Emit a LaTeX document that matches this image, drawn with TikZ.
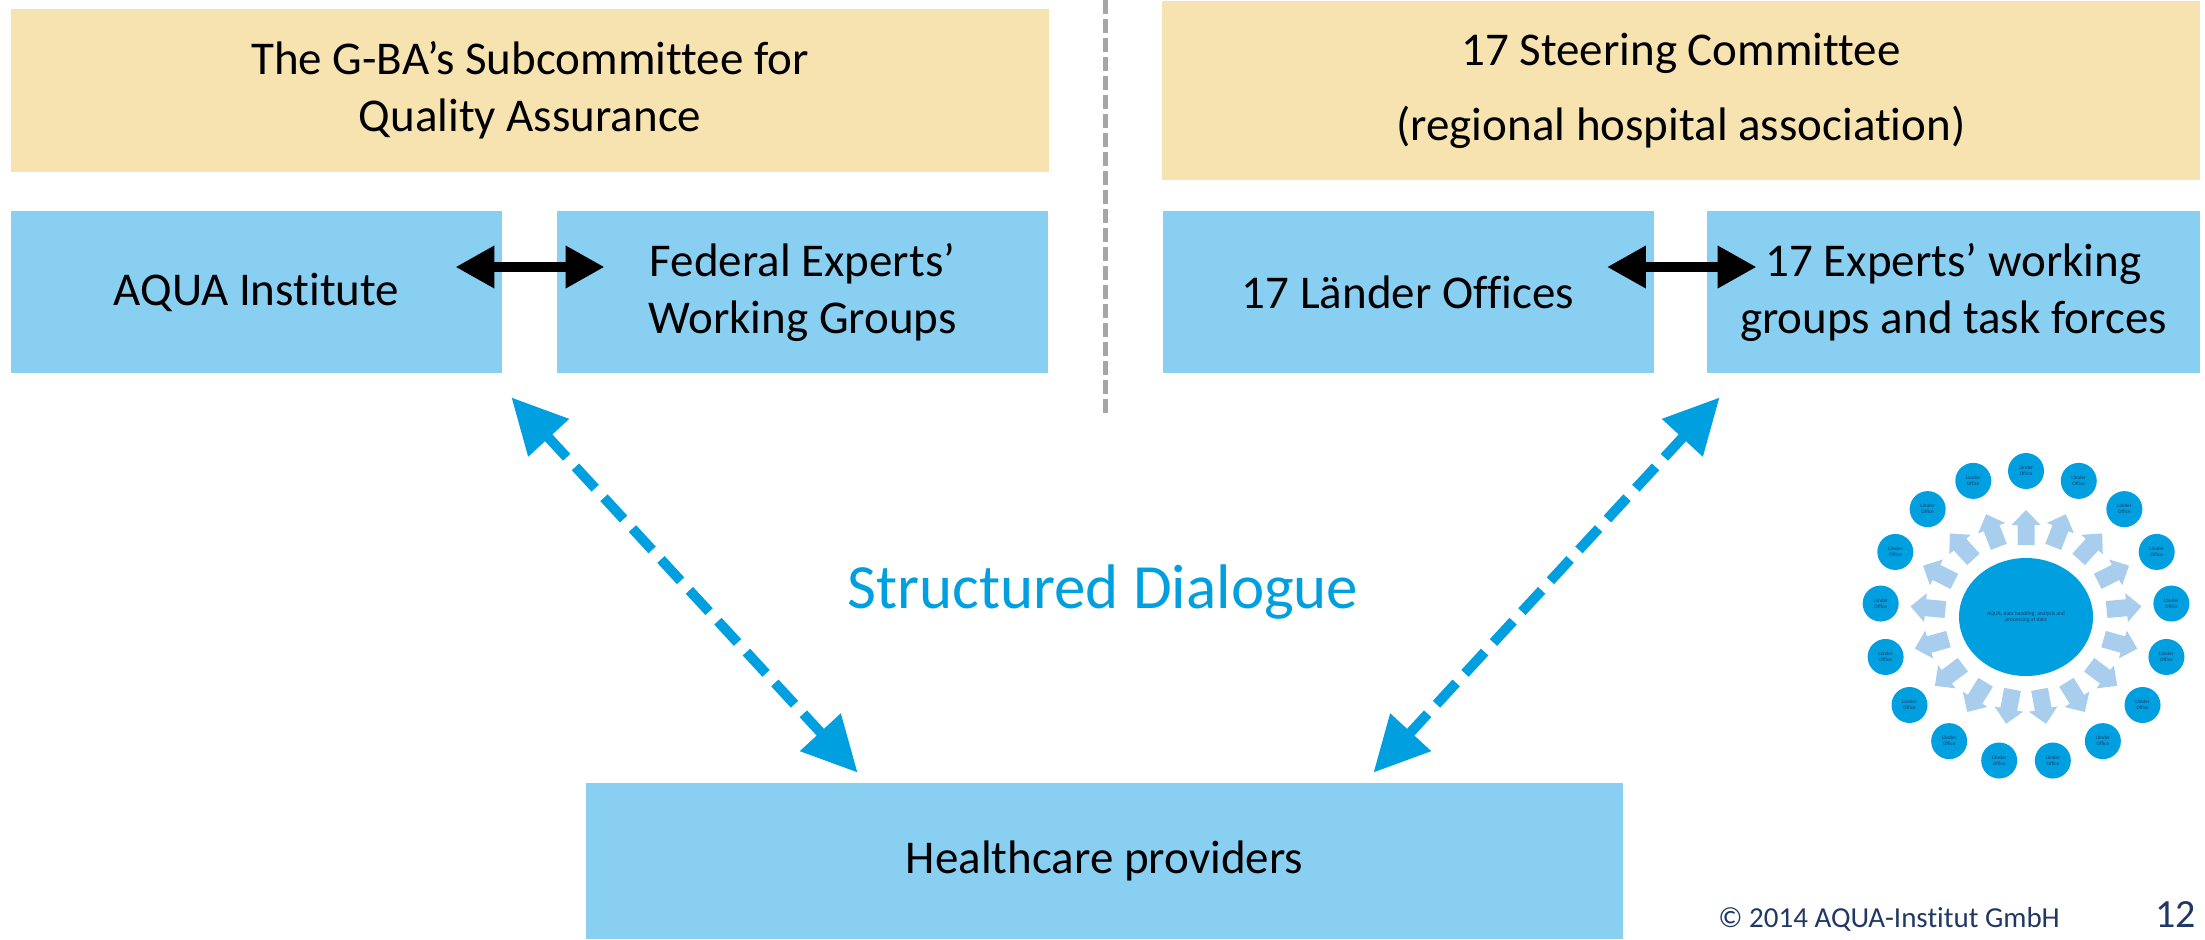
\documentclass[tikz,border=0pt]{standalone}
\usepackage{fontspec}
\setmainfont{Carlito}[Ligatures=CommonOff]
\usetikzlibrary{arrows.meta,shapes.geometric}
\definecolor{tanc}{HTML}{F6E3AF}
\definecolor{lboxc}{HTML}{89CFF1}
\definecolor{bluec}{HTML}{00A0E0}
\definecolor{larrowc}{HTML}{A9CDEC}
\definecolor{navyc}{HTML}{203864}
\definecolor{grayc}{HTML}{A6A6A6}
\begin{document}
\begin{tikzpicture}[x=0.5pt,y=-0.5pt,
  tanbox/.style={fill=tanc, draw=none, minimum width=519pt, inner sep=0pt, align=center,
    font=\fontsize{23.5}{28.5}\selectfont},
  lbox/.style={fill=lboxc, draw=none, minimum width=245.5pt, minimum height=81pt, inner sep=0pt,
    align=center, font=\fontsize{23.5}{28.5}\selectfont},
  blk/.style={line width=5pt, black, {Triangle[length=19.5pt,width=20pt]}-{Triangle[length=19.5pt,width=20pt]}},
  bluedash/.style={draw=bluec, line width=5pt, dash pattern=on 14.5pt off 6.5pt,
    {Triangle[length=27.5pt,width=26.5pt]}-{Triangle[length=27.5pt,width=26.5pt]}},
  smallc/.style={circle, fill=bluec, minimum size=18pt, inner sep=0pt, align=center,
    text=navyc, font=\fontsize{2.6}{3}\selectfont},
  bigell/.style={ellipse, fill=bluec, minimum width=67pt, minimum height=59pt, inner sep=0pt,
    align=center, text=navyc, font=\fontsize{2.8}{3.4}\selectfont},
  larrow/.style={fill=larrowc, draw=none}
]
\useasboundingbox (0,0) rectangle (2205,939);

% divider
\draw[grayc, line width=2.5pt, dash pattern=on 7pt off 2.5pt] (1105,0) -- (1105,413);

% top boxes
\node[tanbox, minimum height=81.5pt] (gba) at (530,90.5) {The G-BA’s Subcommittee for\\Quality Assurance};
\node[tanbox, minimum height=89.5pt] (steer) at (1681,90.5) {17 Steering Committee\\[9pt](regional hospital association)};

\node[lbox] (aqua) at (256.5,292) {AQUA Institute};
\node[lbox] (fed) at (802.5,292) {Federal Experts’\\Working Groups};
\node[lbox] (laender) at (1408,292) {17 Länder Offices};
\node[lbox, minimum width=246.5pt] (experts) at (1953.5,292) {17 Experts’ working\\groups and task forces};

\node[fill=lboxc, minimum width=518.5pt, minimum height=78pt, inner sep=0pt,
  font=\fontsize{23.5}{28.5}\selectfont] (hc) at (1104.5,861) {Healthcare providers};

% black arrows
\draw[blk] ([xshift=-23.5pt,yshift=12.5pt]aqua.east) -- ([xshift=24pt,yshift=12.5pt]fed.west);
\draw[blk] ([xshift=-23.5pt,yshift=12.5pt]laender.east) -- ([xshift=25pt,yshift=12.5pt]experts.west);

% blue dashed arrows
\draw[bluedash] ([xshift=4.5pt,yshift=-12pt]aqua.south east) -- ([xshift=136pt,yshift=5pt]hc.north west);
\draw[bluedash] ([xshift=6.5pt,yshift=-12pt]experts.south west) -- ([xshift=-125pt,yshift=5pt]hc.north east);

\node[anchor=base, text=bluec, font=\fontsize{31.5}{36}\selectfont] (sd) at (1103,608) {Structured Dialogue};

% footer
\node[anchor=base west, inner sep=0pt, text=navyc, font=\fontsize{14.5}{17}\selectfont] (copy) at (1718,927) {© 2014 AQUA-Institut GmbH};
\node[anchor=base west, inner sep=0pt, text=navyc, font=\fontsize{20}{24}\selectfont] (pg) at (2155,927) {12};

% circle diagram
\begin{scope}[shift={(2026,617)}, x=0.5pt, y=0.5pt]
  \node[bigell] (core) at (0,0) {AQUA, data handling, analysis and\\processing of data};
  \foreach \k in {0,...,16}{
    \pgfmathsetmacro\ang{90-\k*360/17}
    \pgfmathsetmacro\rin{72+9*abs(cos(\ang))}
    \fill[larrow, shift={(\ang:\rin)}, rotate=\ang]
      (0,-8.5) -- (20,-8.5) -- (20,-14.5) -- (35,0) -- (20,14.5) -- (20,8.5) -- (0,8.5) -- cycle;
    \node[smallc] (c\k) at (\ang:146) {Länder\\Office};
  }
\end{scope}
\end{tikzpicture}
\end{document}
